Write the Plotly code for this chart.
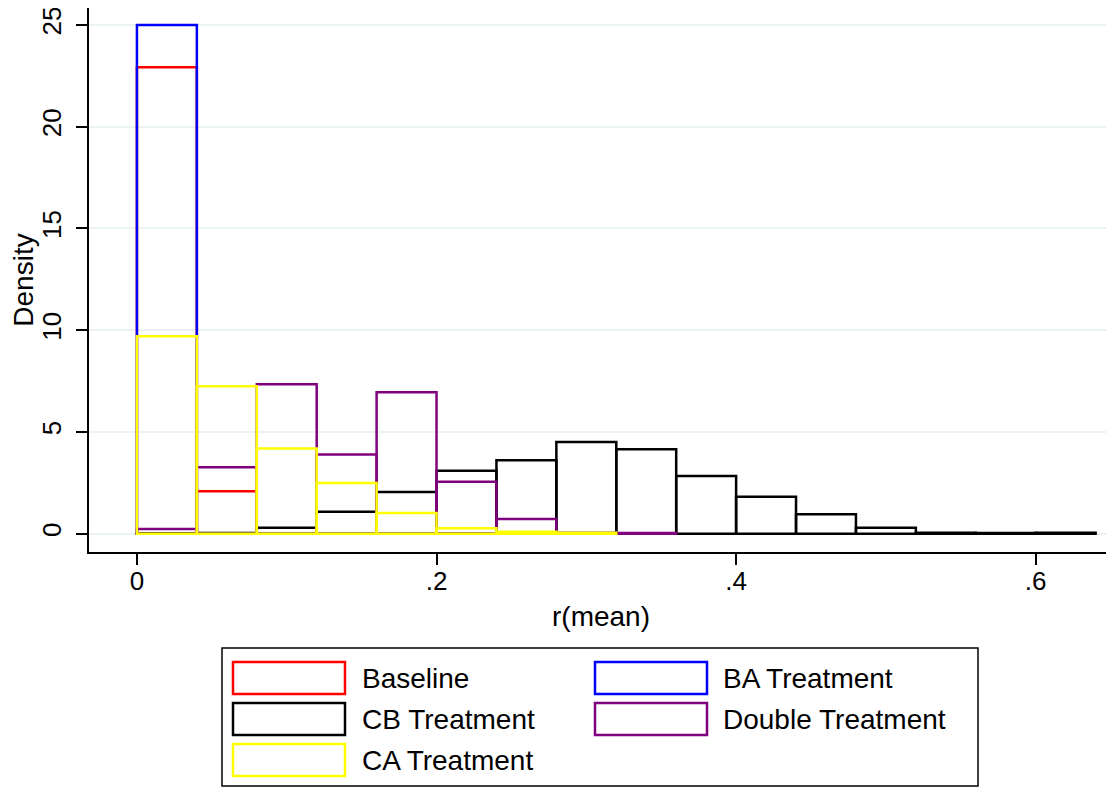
import plotly.graph_objects as go

# ---- data ----
bin_width = 0.04
bin_starts = [round(i * bin_width, 2) for i in range(16)]

series_names = ["Baseline", "BA Treatment", "CB Treatment", "Double Treatment", "CA Treatment"]
series_colors = ["#FF0000", "#0000FF", "#000000", "#800080", "#FFFF00"]

baseline = [22.92, 2.09, None, None, None, None, None, None, None, None, None, None, None, None, None, None]
ba_treat = [25.0, None, None, None, None, None, None, None, None, None, None, None, None, None, None, None]
cb_treat = [0.02, 0.03, 0.29, 1.08, 2.05, 3.09, 3.61, 4.51, 4.15, 2.83, 1.81, 0.95, 0.29, 0.04, 0.03, 0.04]
double_treat = [0.23, 3.27, 7.34, 3.89, 6.95, 2.55, 0.72, 0.04, 0.03, None, None, None, None, None, None, None]
ca_treat = [9.70, 7.24, 4.19, 2.49, 1.02, 0.27, 0.10, 0.05, None, None, None, None, None, None, None, None]

series_values = [baseline, ba_treat, cb_treat, double_treat, ca_treat]

x_tickvals = [0, 0.2, 0.4, 0.6]
x_ticktext = ["0", ".2", ".4", ".6"]
y_tickvals = [0, 5, 10, 15, 20, 25]
y_ticktext = ["0", "5", "10", "15", "20", "25"]

# ---- figure ----
# page body has an 8px margin, so the figure is 8px smaller and offset
OFF = 8
W, H = 1114 - OFF, 788 - OFF
ML, MR, MT, MB = 89 - OFF, 1, 0, 788 - 552
PW, PH = W - ML - MR, H - MT - MB

def px_x(p):
    return (p - OFF - ML) / PW

def px_y(p):
    return (H - MB - (p - OFF)) / PH

FONT = "Liberation Sans, Arial, Helvetica, sans-serif"
FS = 28
TFS = 26

fig = go.Figure()
centers = [s + bin_width / 2 for s in bin_starts]
for name, color, vals in zip(series_names, series_colors, series_values):
    fig.add_trace(go.Bar(
        x=centers, y=vals, width=bin_width, name=name,
        marker=dict(color="rgba(0,0,0,0)", line=dict(color=color, width=2.5)),
        showlegend=False,
    ))

# custom Stata-style legend (layout decoration)
shapes = [dict(type="rect", xref="paper", yref="paper",
               x0=px_x(222), x1=px_x(978), y0=px_y(786), y1=px_y(648),
               line=dict(color="black", width=1.5), fillcolor="white", layer="below")]
annotations = []
col_rect_x = [233, 595]
col_text_x = [360, 721]
row_y = [678, 719, 760]
for i, (name, color) in enumerate(zip(series_names, series_colors)):
    r, c = divmod(i, 2)
    yc = row_y[r]
    shapes.append(dict(type="rect", xref="paper", yref="paper",
                       x0=px_x(col_rect_x[c]), x1=px_x(col_rect_x[c] + 112),
                       y0=px_y(yc + 16), y1=px_y(yc - 16),
                       line=dict(color=color, width=2.5), fillcolor="rgba(0,0,0,0)"))
    annotations.append(dict(xref="paper", yref="paper", x=px_x(col_text_x[c]), y=px_y(yc),
                            text=name, showarrow=False, xanchor="left", yanchor="middle",
                            font=dict(family=FONT, size=FS, color="black")))

fig.update_layout(
    width=W, height=H,
    margin=dict(l=ML, r=MR, t=MT, b=MB, autoexpand=False),
    paper_bgcolor="white", plot_bgcolor="white",
    barmode="overlay",
    font=dict(family=FONT, size=FS, color="black"),
    shapes=shapes, annotations=annotations,
    showlegend=False,
    xaxis=dict(
        range=[-0.032, 0.6516], tickvals=x_tickvals, ticktext=x_ticktext,
        tickfont=dict(size=TFS),
        showgrid=False, zeroline=False, showline=True, linecolor="black", linewidth=1.5,
        ticks="outside", ticklen=11, tickwidth=1.5, tickcolor="black",
        ticklabelstandoff=-6, ticklabeloverflow="allow",
        title=dict(text="r(mean)", standoff=11, font=dict(size=FS)),
        automargin=False,
    ),
    yaxis=dict(
        range=[-0.9, 25.835], tickvals=y_tickvals, ticktext=y_ticktext, tickangle=-90,
        tickfont=dict(size=TFS),
        showgrid=True, gridcolor="#EAF2F3", gridwidth=2,
        zeroline=False, showline=True, linecolor="black", linewidth=1.5,
        ticks="outside", ticklen=11, tickwidth=1.5, tickcolor="black",
        ticklabelstandoff=5, ticklabeloverflow="allow",
        title=dict(text="Density", standoff=0, font=dict(size=FS)),
        automargin=False,
    ),
)

fig.write_html("out.html")
